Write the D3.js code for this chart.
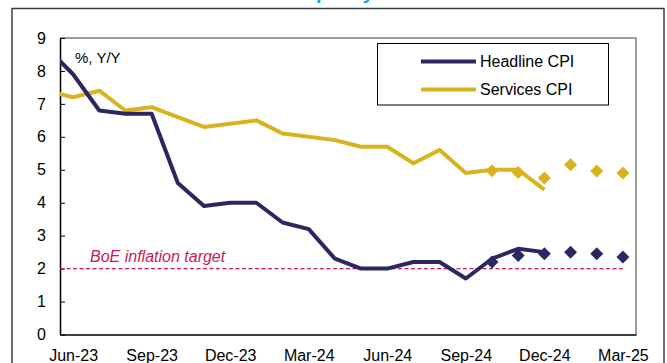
<!DOCTYPE html>
<html>
<head>
<meta charset="utf-8">
<script src="https://cdn.jsdelivr.net/npm/d3@7"></script>
<style>
  html, body { margin: 0; padding: 0; background: #fff; }
  svg { display: block; font-family: "Liberation Sans", Arial, sans-serif; }
</style>
</head>
<body>
<svg id="chart" width="667" height="363"></svg>
<script>
// Monthly index: -1 = May-23, 0 = Jun-23 ... 21 = Mar-25
const months = ["May-23","Jun-23","Jul-23","Aug-23","Sep-23","Oct-23","Nov-23","Dec-23",
  "Jan-24","Feb-24","Mar-24","Apr-24","May-24","Jun-24","Jul-24","Aug-24","Sep-24",
  "Oct-24","Nov-24","Dec-24"];
const headlineCPI = [8.7,7.9,6.8,6.7,6.7,4.6,3.9,4.0,4.0,3.4,3.2,2.3,2.0,2.0,2.2,2.2,1.7,2.3,2.6,2.5];
const servicesCPI = [7.4,7.2,7.4,6.8,6.9,6.6,6.3,6.4,6.5,6.1,6.0,5.9,5.7,5.7,5.2,5.6,4.9,5.0,5.0,4.4];

// Projections, Oct-24 to Mar-25
const projMonths = ["Oct-24","Nov-24","Dec-24","Jan-25","Feb-25","Mar-25"];
const headlineProj = [2.2,2.4,2.45,2.5,2.45,2.35];
const servicesProj = [4.97,4.92,4.75,5.15,4.96,4.9];

const tickLabels = ["Jun-23","Sep-23","Dec-23","Mar-24","Jun-24","Sep-24","Dec-24","Mar-25"];
const yTicks = [0,1,2,3,4,5,6,7,8,9];
const targetRate = 2;

const allMonths = months.concat(projMonths.slice(3));
const monthIndex = m => allMonths.indexOf(m) - 1;

const colHeadline = "#2c2760";
const colServices = "#d8b21f";
const colTarget = "#c8185a";

const svg = d3.select("#chart");
const plot = { left: 60, top: 38, right: 636, bottom: 334.5 };

const x = d3.scaleLinear().domain([-0.5, 21.5]).range([plot.left, plot.right]);
const y = d3.scaleLinear().domain([0, 9]).range([plot.bottom, plot.top]);

// Title (runs off the top edge)
svg.append("text")
  .attr("x", 316).attr("y", -1)
  .attr("text-anchor", "end")
  .attr("font-size", 20).attr("font-weight", "bold")
  .attr("fill", "#1aa3e6")
  .text("UK inflation and ");
svg.append("text")
  .attr("x", 316).attr("y", -1)
  .attr("font-size", 20).attr("font-weight", "bold")
  .attr("fill", "#1aa3e6")
  .text("policy");

// Outer frame
svg.append("rect")
  .attr("x", 12).attr("y", 8.5)
  .attr("width", 652).attr("height", 380)
  .attr("fill", "none").attr("stroke", "#3c3c3c").attr("stroke-width", 1.5);

// Plot frame: grey top and right edges
svg.append("path")
  .attr("d", `M${plot.left},${plot.top}H${plot.right}V${plot.bottom}`)
  .attr("fill", "none").attr("stroke", "#7f7f7f").attr("stroke-width", 1.5);

svg.append("defs").append("clipPath").attr("id", "plotClip")
  .append("rect")
  .attr("x", plot.left).attr("y", plot.top)
  .attr("width", plot.right - plot.left).attr("height", plot.bottom - plot.top);

// Y axis
const yAxis = d3.axisLeft(y).tickValues(yTicks).tickFormat(d3.format("d"))
  .tickSizeInner(-5).tickSizeOuter(0).tickPadding(14);
const gy = svg.append("g").attr("transform", `translate(${plot.left},0)`).call(yAxis);
gy.select(".domain").attr("stroke", "#000").attr("stroke-width", 1.5);
gy.selectAll(".tick line").attr("stroke", "#000");
gy.selectAll(".tick text").attr("font-size", 16).attr("fill", "#000")
  .attr("font-family", "Liberation Sans, Arial, sans-serif");

// X axis
const xAxis = d3.axisBottom(x).tickValues(tickLabels.map(monthIndex))
  .tickFormat((d, i) => tickLabels[i]).tickSize(0).tickPadding(15);
const gx = svg.append("g").attr("transform", `translate(0,${plot.bottom})`).call(xAxis);
gx.select(".domain").attr("stroke", "#000").attr("stroke-width", 1.5);
gx.selectAll(".tick text").attr("font-size", 16).attr("fill", "#000")
  .attr("font-family", "Liberation Sans, Arial, sans-serif");

// Axis unit label
svg.append("text")
  .attr("x", 75).attr("y", 63)
  .attr("font-size", 15).attr("fill", "#000")
  .text("%, Y/Y");

// Inflation target
svg.append("line")
  .attr("x1", x(-0.5)).attr("x2", x(monthIndex("Mar-25")))
  .attr("y1", y(targetRate)).attr("y2", y(targetRate))
  .attr("stroke", colTarget).attr("stroke-width", 1.3)
  .attr("stroke-dasharray", "4,2.5");
svg.append("text")
  .attr("x", 90).attr("y", y(targetRate) - 7)
  .attr("font-size", 16).attr("font-style", "italic")
  .attr("fill", colTarget)
  .text("BoE inflation target");

// Actual series
const line = d3.line().x((d, i) => x(i - 1)).y(d => y(d));
const lines = svg.append("g").attr("clip-path", "url(#plotClip)");
lines.append("path").datum(servicesCPI)
  .attr("d", line).attr("fill", "none")
  .attr("stroke", colServices).attr("stroke-width", 4).attr("stroke-linejoin", "round");
lines.append("path").datum(headlineCPI)
  .attr("d", line).attr("fill", "none")
  .attr("stroke", colHeadline).attr("stroke-width", 4).attr("stroke-linejoin", "round");

// Projection markers (diamonds)
const diamond = r => `M0,${-r}L${r},0L0,${r}L${-r},0Z`;
function drawProj(values, color) {
  svg.append("g").selectAll("path").data(values).join("path")
    .attr("d", diamond(6.5))
    .attr("transform", (d, i) => `translate(${x(monthIndex(projMonths[i]))},${y(d)})`)
    .attr("fill", color);
}
drawProj(servicesProj, colServices);
drawProj(headlineProj, colHeadline);

// Legend
const legend = svg.append("g");
legend.append("rect")
  .attr("x", 377.5).attr("y", 43.5).attr("width", 231).attr("height", 61.5)
  .attr("fill", "#fff").attr("stroke", "#000").attr("stroke-width", 1);
const legendItems = [
  { name: "Headline CPI", color: colHeadline, y: 61.5 },
  { name: "Services CPI", color: colServices, y: 89.5 }
];
legendItems.forEach(it => {
  legend.append("line")
    .attr("x1", 421).attr("x2", 476).attr("y1", it.y).attr("y2", it.y)
    .attr("stroke", it.color).attr("stroke-width", 4);
  legend.append("text")
    .attr("x", 480).attr("y", it.y + 5.5)
    .attr("font-size", 16).attr("fill", "#000")
    .text(it.name);
});
</script>
</body>
</html>
